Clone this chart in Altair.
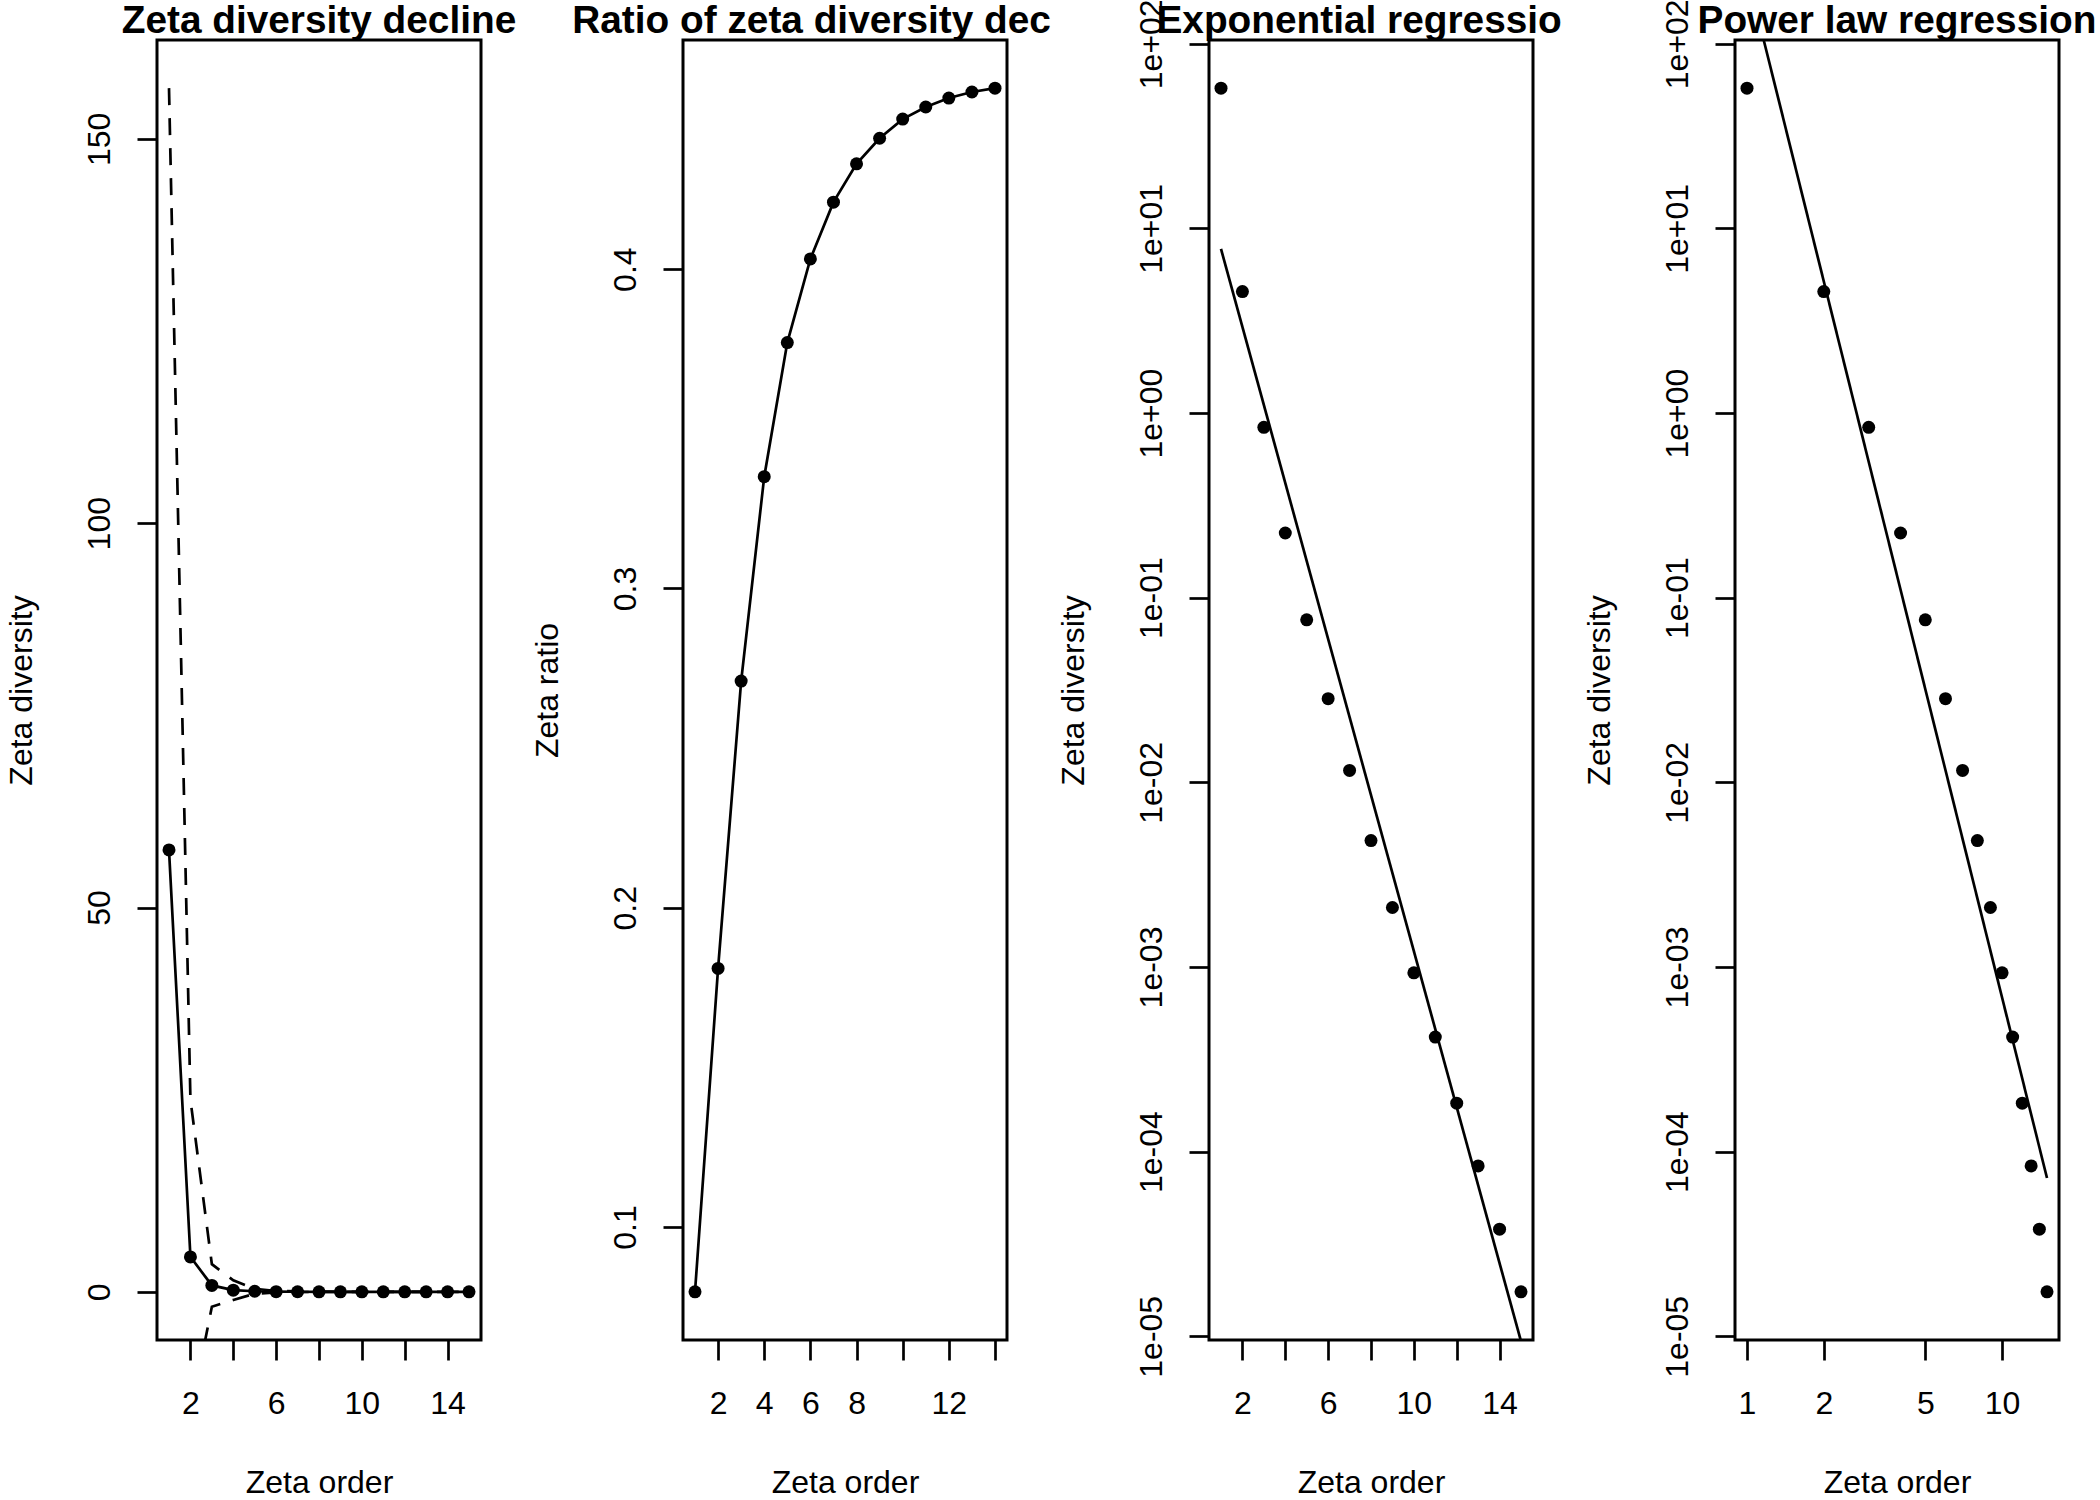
import json
import math
import altair as alt
import pandas as pd

# ---------------- data ----------------
orders = list(range(1, 16))
zeta_div = [57.5, 4.55, 0.837, 0.224, 0.0759, 0.0284, 0.0116, 0.00484, 0.0021,
            0.00093, 0.000417, 0.000183, 0.0000837, 0.000038, 0.0000174]
zeta_upper = [156.6, 25.0, 3.6, 1.5, 0.4, 0.12, 0.05, 0.02, 0.008, 0.004,
              0.0015, 0.0007, 0.0003, 0.00013, 0.00006]
zeta_lower = [-41.6, -15.9, -1.93, -1.05, -0.25, -0.063, -0.027, -0.010,
              -0.0038, -0.0021, -0.0007, -0.0003, -0.00013, -0.00005, -0.000025]

ratio_orders = list(range(1, 15))
zeta_ratio = [0.0797, 0.181, 0.271, 0.335, 0.377, 0.4032, 0.421, 0.433, 0.441,
              0.447, 0.4508, 0.4536, 0.4555, 0.4567]

exp_fit_orders = [1, 15]
exp_fit_vals = [7.74, 9.4e-6]
pow_fit_orders = [1, 15]
pow_fit_vals = [242.0, 7.2e-5]

titles = ["Zeta diversity decline", "Ratio of zeta diversity decline",
          "Exponential regression", "Power law regression"]
x_title = "Zeta order"
y_titles = ["Zeta diversity", "Zeta ratio", "Zeta diversity", "Zeta diversity"]

p1_xticks = [2, 4, 6, 8, 10, 12, 14]
p1_xlabels = [2, 6, 10, 14]
p2_xticks = [2, 4, 6, 8, 10, 12, 14]
p2_xlabels = [2, 4, 6, 8, 12]
p4_xticks = [1, 2, 5, 10]
p1_yticks = [0, 50, 100, 150]
p2_yticks = [0.1, 0.2, 0.3, 0.4]
log_yticks = [1e-05, 1e-04, 1e-03, 1e-02, 1e-01, 1e+00, 1e+01, 1e+02]
log_ylabels = ["1e-05", "1e-04", "1e-03", "1e-02", "1e-01", "1e+00", "1e+01", "1e+02"]

# ---------------- layout / style ----------------
FONT = "Liberation Sans"
PW, PH = 324, 1300
SPACING = 202
AX_FS = 32
TITLE_FS = 38.8
LW = 2.7
PT = 169
DASH = [17, 13]
FIG_RIGHT = 368  # figure region right edge, relative to plot left

# Arial-bold advance widths (per 1000 em) for centring the clipped titles
BOLD_W = {"Z": 611, "e": 556, "t": 333, "a": 556, " ": 278, "d": 611, "i": 278,
          "v": 556, "r": 389, "s": 556, "y": 556, "c": 556, "l": 278, "n": 611,
          "R": 722, "o": 611, "f": 333, "z": 500, "E": 667, "x": 556, "p": 611,
          "g": 611, "P": 667, "w": 778}


def text_width(s, fs):
    return sum(BOLD_W.get(ch, 556) for ch in s) * fs / 1000.0


def ext(lo, hi, f=0.04):
    d = hi - lo
    return [lo - f * d, hi + f * d]


def ext_log(lo, hi):
    a, b = ext(math.log10(lo), math.log10(hi))
    return [10 ** a, 10 ** b]


def x_axis(values, shown, fmt="d"):
    expr = "indexof(%s, datum.value) >= 0 ? datum.label : ''" % json.dumps(shown)
    return alt.Axis(values=values, labelExpr=expr, format=fmt, title=x_title,
                    titleX=PW / 2, titleY=152, titleAlign="center",
                    titleBaseline="alphabetic", titleAngle=0,
                    labelBaseline="alphabetic", labelAlign="center",
                    labelPadding=53, labelOverlap=False, labelFlush=False)


def y_axis(values, title, **kw):
    return alt.Axis(values=values, title=title, titleX=-126, titleY=PH / 2,
                    titleAngle=270, titleAlign="center", titleBaseline="alphabetic",
                    labelAngle=270, labelAlign="center", labelBaseline="alphabetic",
                    labelPadding=28, labelOverlap=False, labelFlush=False, **kw)


def title_layer(text):
    w = text_width(text, TITLE_FS)
    start = PW / 2 - w / 2
    return alt.Chart(alt.Data(values=[{"t": text}])).mark_text(
        align="left", baseline="alphabetic", font=FONT, fontSize=TITLE_FS,
        fontWeight="bold", color="black", limit=FIG_RIGHT - start, ellipsis="\u200b"
    ).encode(x=alt.value(start), y=alt.value(-6.7), text="t:N")


# ---------------- panel 1 ----------------
df1 = pd.DataFrame({"x": orders, "y": zeta_div, "up": zeta_upper, "lo": zeta_lower})
x1 = alt.X("x:Q", scale=alt.Scale(domain=ext(1, 15), nice=False, zero=False),
           axis=x_axis(p1_xticks, p1_xlabels))
y1dom = ext(zeta_lower[-1], zeta_upper[0])
y1 = alt.Y("y:Q", scale=alt.Scale(domain=y1dom, nice=False, zero=False),
           axis=y_axis(p1_yticks, y_titles[0], format="d"))
base1 = alt.Chart(df1)
p1 = alt.layer(
    base1.mark_line(color="black", strokeWidth=LW, clip=True).encode(x=x1, y=y1),
    base1.mark_line(color="black", strokeWidth=LW, strokeDash=DASH, clip=True).encode(
        x=x1, y=alt.Y("up:Q", scale=alt.Scale(domain=y1dom, nice=False, zero=False))),
    base1.mark_line(color="black", strokeWidth=LW, strokeDash=DASH, clip=True).encode(
        x=x1, y=alt.Y("lo:Q", scale=alt.Scale(domain=y1dom, nice=False, zero=False))),
    base1.mark_circle(size=PT, color="black", opacity=1).encode(x=x1, y=y1),
    title_layer(titles[0]),
).properties(width=PW, height=PH)

# ---------------- panel 2 ----------------
df2 = pd.DataFrame({"x": ratio_orders, "y": zeta_ratio})
x2 = alt.X("x:Q", scale=alt.Scale(domain=ext(1, 14), nice=False, zero=False),
           axis=x_axis(p2_xticks, p2_xlabels))
y2 = alt.Y("y:Q", scale=alt.Scale(domain=ext(min(zeta_ratio), max(zeta_ratio)),
                                  nice=False, zero=False),
           axis=y_axis(p2_yticks, y_titles[1], format=".1f"))
base2 = alt.Chart(df2)
p2 = alt.layer(
    base2.mark_line(color="black", strokeWidth=LW, clip=True).encode(x=x2, y=y2),
    base2.mark_circle(size=PT, color="black", opacity=1).encode(x=x2, y=y2),
    title_layer(titles[1]),
).properties(width=PW, height=PH)

# ---------------- log y helpers ----------------
ylogdom = ext_log(min(zeta_div), max(zeta_div))
log_expr = "%s[round(log(datum.value)/LN10)+%d]" % (json.dumps(log_ylabels),
                                                    -int(round(math.log10(log_yticks[0]))))

# ---------------- panel 3 ----------------
df3 = pd.DataFrame({"x": orders, "y": zeta_div})
df3f = pd.DataFrame({"x": exp_fit_orders, "y": exp_fit_vals})
x3 = alt.X("x:Q", scale=alt.Scale(domain=ext(1, 15), nice=False, zero=False),
           axis=x_axis(p1_xticks, p1_xlabels))
y3 = alt.Y("y:Q", scale=alt.Scale(type="log", domain=ylogdom, nice=False),
           axis=y_axis(log_yticks, y_titles[2], labelExpr=log_expr))
p3 = alt.layer(
    alt.Chart(df3f).mark_line(color="black", strokeWidth=LW, clip=True).encode(x=x3, y=y3),
    alt.Chart(df3).mark_circle(size=PT, color="black", opacity=1).encode(x=x3, y=y3),
    title_layer(titles[2]),
).properties(width=PW, height=PH)

# ---------------- panel 4 ----------------
df4f = pd.DataFrame({"x": pow_fit_orders, "y": pow_fit_vals})
x4 = alt.X("x:Q", scale=alt.Scale(type="log", domain=ext_log(1, 15), nice=False),
           axis=x_axis(p4_xticks, p4_xticks))
y4 = alt.Y("y:Q", scale=alt.Scale(type="log", domain=ylogdom, nice=False),
           axis=y_axis(log_yticks, y_titles[3], labelExpr=log_expr))
p4 = alt.layer(
    alt.Chart(df4f).mark_line(color="black", strokeWidth=LW, clip=True).encode(x=x4, y=y4),
    alt.Chart(df3).mark_circle(size=PT, color="black", opacity=1).encode(x=x4, y=y4),
    title_layer(titles[3]),
).properties(width=PW, height=PH)

chart = alt.hconcat(p1, p2, p3, p4, spacing=SPACING, bounds="flush").properties(
    padding={"left": 3, "top": -3, "right": 0, "bottom": 0},
    background="white",
).configure_view(
    stroke="black", strokeWidth=3, fill="white"
).configure_axis(
    domain=False, grid=False, ticks=True, tickColor="black", tickWidth=LW,
    tickSize=20, labelFont=FONT, labelFontSize=AX_FS, labelColor="black",
    titleFont=FONT, titleFontSize=AX_FS, titleFontWeight="normal", titleColor="black",
)

chart.save("out.html", embed_options={"renderer": "svg", "actions": False})
